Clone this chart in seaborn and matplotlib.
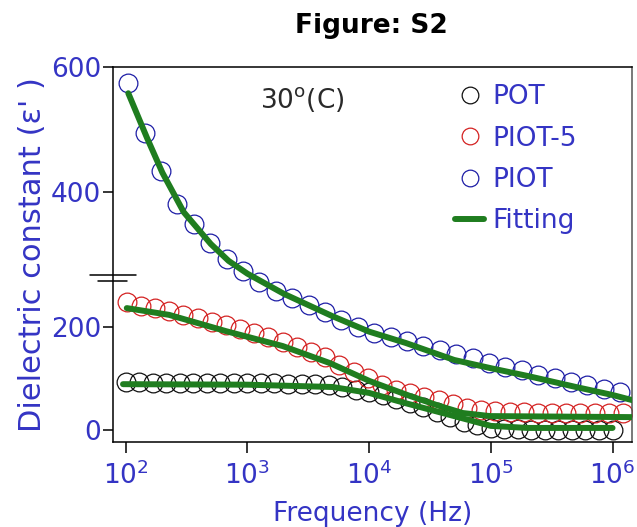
import numpy as np
import pandas as pd
import matplotlib
matplotlib.use("Agg")
import matplotlib.pyplot as plt
import seaborn as sns
from matplotlib.lines import Line2D
from matplotlib.ticker import FixedLocator, NullLocator

# ---- data ----
pot_freq = [100, 129.2, 166.8, 215.4, 278.3, 359.4, 464.2, 599.5, 774.3, 1000,
            1292, 1668, 2154, 2783, 3594, 4642, 5995, 7743, 10000, 12915,
            16681, 21544, 27826, 35938, 46416, 59948, 77426, 100000, 129155,
            166810, 215443, 278256, 359381, 464159, 599484, 774264, 1000000]
pot_eps = [93, 93, 92, 92, 92, 92, 92, 91, 91, 91, 91, 91, 90,
           90, 89, 87, 83.5, 78.5, 74, 68, 60, 52, 44, 35, 25, 16.5, 9, 4, 1.5,
           1, 0.5, 0.5, 0.5, 0.5, 0.5, 0.5, 0.5]

piot5_freq = [101.9, 133.2, 174.2, 227.8, 297.8, 389.4, 509.3, 665.9, 871, 1139,
              1489, 1948, 2547, 3331, 4355, 5695, 7447, 9739, 12735, 16653,
              21777, 28477, 37239, 48697, 63680, 83272, 108893, 142396, 186209,
              243501, 318420, 416389, 544503, 712033, 931108, 1217600]
piot5_eps = [237.5, 231, 227.5, 224, 218, 213, 208, 203, 196, 188, 181, 171.5,
             161.5, 152, 141, 126, 113.5, 101, 87.5, 77.5, 71, 64, 57.5, 50.5,
             43.5, 39, 36, 35, 34, 33, 33, 33, 33, 33, 33, 33]

piot_freq = [105, 143, 195, 266, 363, 495, 675, 920, 1255, 1711, 2333, 3182,
             4339, 5918, 8070, 11003, 15004, 20463, 27904, 38050, 51880, 70760,
             96470, 131560, 179400, 244600, 333600, 454900, 620300, 845900, 1153000]
piot_eps = [574, 495, 434, 382, 353, 324, 301, 283, 267, 253, 243, 232, 221.5,
            211, 200.5, 189, 181.5, 172, 163, 155, 147.5, 139, 130, 123, 116.5,
            107, 100.5, 94, 87.5, 79.5, 74]

# fitted curves
fit_pot_freq = [95, 1000, 5000, 10000, 20000, 50000, 100000, 200000, 1000000]
fit_pot_eps = [89, 88, 83.5, 72, 52, 27, 8, 4, 4]
fit_piot5_freq = [102, 227, 665, 1950, 4750, 10100, 21700, 38000, 58700, 98500, 1450000]
fit_piot5_eps = [228, 218, 192, 163, 130, 95, 66, 46.5, 33, 27, 25]
fit_piot_freq = [105, 150, 200, 300, 500, 700, 1000, 2000, 5000, 1e4, 2e4, 5e4,
                 1e5, 2e5, 5e5, 1e6, 1.45e6]
fit_piot_eps = [558, 486, 431, 370, 323, 298, 279, 249, 216, 191, 169, 136,
                120, 105, 83.5, 68, 58]

y_ticks = [0, 200, 400, 600]
x_ticks = [1e2, 1e3, 1e4, 1e5, 1e6]
x_ticklabels = [r"$\mathregular{10^{%d}}$" % p for p in range(2, 7)]

# ---- style ----
sns.set_theme(style="ticks")
plt.rcParams["font.family"] = ["DejaVu Sans"]
plt.rcParams["axes.linewidth"] = 1.1
blue_txt = "#3434c4"
green = "#1f7d1f"

fig = plt.figure(figsize=(6.37, 5.27), dpi=100)
ax = fig.add_axes([113 / 637, 1 - 442 / 527, 519 / 637, 375 / 527])

# uneven (broken) y axis as in the original
kv = [-100, 0, 200, 400, 600, 800]
kd = [-51.5, 0, 103, 238, 363, 488]
ax.set_xscale("log")
ax.set_yscale("function",
              functions=(lambda v: np.interp(v, kv, kd),
                         lambda d: np.interp(d, kd, kv)))

series = [
    (pot_freq, pot_eps, "#111111"),
    (piot5_freq, piot5_eps, "#d42222"),
    (piot_freq, piot_eps, "#1e1ea6"),
]
for f, e, c in series:
    df = pd.DataFrame({"f": f, "e": e})
    sns.lineplot(data=df, x="f", y="e", ax=ax, linestyle="none", marker="o",
                 markersize=13.5, markerfacecolor="none", markeredgecolor=c,
                 markeredgewidth=0.9, zorder=2)

for f, e in [(fit_pot_freq, fit_pot_eps), (fit_piot5_freq, fit_piot5_eps),
             (fit_piot_freq, fit_piot_eps)]:
    df = pd.DataFrame({"f": f, "e": e})
    sns.lineplot(data=df, x="f", y="e", ax=ax, color=green, linewidth=4.3,
                 zorder=3, sort=True)

ax.set_xlim(78.6, 1.445e6)
ax.set_ylim(-23.3, 600)
ax.xaxis.set_major_locator(FixedLocator(x_ticks))
ax.xaxis.set_minor_locator(NullLocator())
ax.set_xticklabels(x_ticklabels)
ax.yaxis.set_major_locator(FixedLocator(y_ticks))
ax.yaxis.set_minor_locator(NullLocator())

ax.tick_params(axis="x", direction="out", length=8, width=1.1, pad=6,
               labelsize=19, labelcolor=blue_txt, color="black")
ax.tick_params(axis="y", direction="out", length=7, width=1.1, pad=1.5,
               labelsize=19, labelcolor=blue_txt, color="black")
for s in ax.spines.values():
    s.set_color("black")
ax.spines["right"].set_color("#555555")

ax.set_xlabel("Frequency (Hz)", fontsize=19, color=blue_txt)
ax.set_ylabel("Dielectric constant (ε' )", fontsize=22, color=blue_txt)
ax.xaxis.set_label_coords(0.5, -0.158)
ax.yaxis.set_label_coords(-0.127, 0.5)

# axis break mark
ax.plot([-0.0443, 0.0443], [0.4445, 0.4445], transform=ax.transAxes,
        color="black", lw=1.1, clip_on=False)
ax.plot([-0.0289, 0.027], [0.430, 0.430], transform=ax.transAxes,
        color="black", lw=1.1, clip_on=False)

ax.text(0.283, 0.891, r"30$^{\mathregular{o}}$(C)", transform=ax.transAxes,
        fontsize=19, color="#2a2a2a", ha="left", va="baseline")

handles = [
    Line2D([], [], ls="none", marker="o", ms=12, mfc="none", mec="#111111", mew=0.9),
    Line2D([], [], ls="none", marker="o", ms=12, mfc="none", mec="#d42222", mew=0.9),
    Line2D([], [], ls="none", marker="o", ms=12, mfc="none", mec="#1e1ea6", mew=0.9),
    Line2D([], [], color=green, lw=4.3),
]
ax.legend(handles, ["POT", "PIOT-5", "PIOT", "Fitting"], loc="upper left",
          bbox_to_anchor=(0.659, 0.954), frameon=False, fontsize=19,
          labelcolor=blue_txt, borderpad=0, borderaxespad=0,
          handlelength=1.1, handletextpad=0.3, labelspacing=0.58)

fig.text(371 / 637, 1 - 33 / 527, "Figure: S2", fontsize=19, fontweight="bold",
         ha="center", va="baseline", color="black")

fig.savefig("out.png", dpi=100)
